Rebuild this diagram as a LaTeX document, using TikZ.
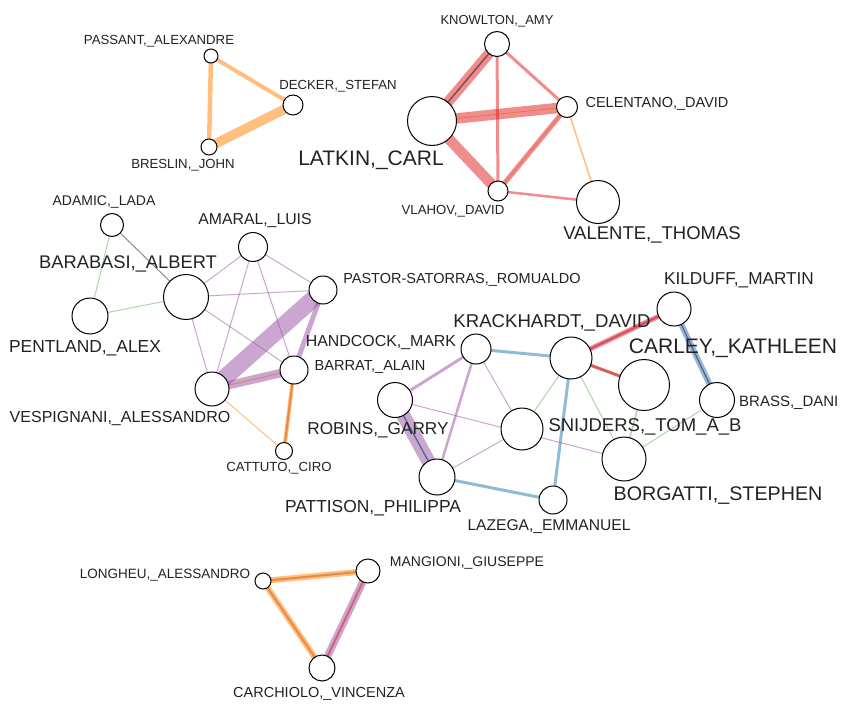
\documentclass[tikz,border=0pt]{standalone}
\usepackage{fontspec}
\setmainfont{Liberation Sans}
\pgfdeclarelayer{bg}
\pgfsetlayers{bg,main}
\definecolor{labelgray}{HTML}{222222}
\definecolor{redE}{HTML}{E31A1C}
\definecolor{purE}{HTML}{984EA3}
\definecolor{bluE}{HTML}{1F78B4}
\definecolor{greE}{HTML}{33A02C}
\definecolor{oraE}{HTML}{FF7F00}
\definecolor{darkora}{HTML}{D9661F}
\tikzset{
  nd/.style={circle, draw=black, fill=white, line width=1pt, inner sep=0pt, minimum size=#1},
  lb/.style={text=labelgray, inner sep=0pt, font=\fontsize{#1}{#1}\selectfont},
  ered/.style={draw=redE, draw opacity=0.5, line width=#1},
  epur/.style={draw=purE, draw opacity=0.5, line width=#1},
  eblu/.style={draw=bluE, draw opacity=0.5, line width=#1},
  egre/.style={draw=greE, draw opacity=0.42, line width=#1},
  eora/.style={draw=oraE, draw opacity=0.5, line width=#1},
  eorad/.style={draw=darkora, draw opacity=0.6, line width=#1},
  egry/.style={draw=black, draw opacity=0.45, line width=#1},
}
\begin{document}
\begin{tikzpicture}[x=1pt,y=-1pt]
\useasboundingbox (0,0) rectangle (846,707);
% nodes
\node[nd=14pt] (passant) at (211,56) {};
\node[nd=20pt] (decker) at (293,105) {};
\node[nd=16pt] (breslin) at (209,147) {};
\node[nd=25pt] (knowlton) at (497,44) {};
\node[nd=49pt] (latkin) at (432,121) {};
\node[nd=21pt] (celentano) at (567,107) {};
\node[nd=20pt] (vlahov) at (498,191) {};
\node[nd=43pt] (valente) at (598,202) {};
\node[nd=23pt] (adamic) at (112,225) {};
\node[nd=29pt] (amaral) at (253,247) {};
\node[nd=45pt] (barabasi) at (186,297) {};
\node[nd=28pt] (pastor) at (323,290) {};
\node[nd=36pt] (pentland) at (90,316) {};
\node[nd=28pt] (barrat) at (294,370) {};
\node[nd=34pt] (vespignani) at (212,389) {};
\node[nd=17pt] (cattuto) at (284,451) {};
\node[nd=30pt] (handcock) at (476,349) {};
\node[nd=35pt] (robins) at (395,400) {};
\node[nd=42pt] (krackhardt) at (571,358) {};
\node[nd=34pt] (kilduff) at (674,309) {};
\node[nd=51pt] (carley) at (644,385) {};
\node[nd=35pt] (brass) at (717,400) {};
\node[nd=42pt] (snijders) at (522,429) {};
\node[nd=44pt] (borgatti) at (624,459) {};
\node[nd=36pt] (pattison) at (437,477) {};
\node[nd=28pt] (lazega) at (553,500) {};
\node[nd=16pt] (longheu) at (263,581) {};
\node[nd=24pt] (mangioni) at (368,571) {};
\node[nd=26pt] (carchiolo) at (322,668) {};
% labels
\node[lb=13.2] (lpassant) at (159,41) {PASSANT,\_ALEXANDRE};
\node[lb=13.2] (ldecker) at (338,86) {DECKER,\_STEFAN};
\node[lb=13.2] (lbreslin) at (183,165) {BRESLIN,\_JOHN};
\node[lb=13] (lknowlton) at (497,21) {KNOWLTON,\_AMY};
\node[lb=21] (llatkin) at (371,160) {LATKIN,\_CARL};
\node[lb=14.5] (lcelentano) at (657,104) {CELENTANO,\_DAVID};
\node[lb=13.2] (lvlahov) at (453,211) {VLAHOV,\_DAVID};
\node[lb=18.5] (lvalente) at (652,235) {VALENTE,\_THOMAS};
\node[lb=14] (ladamic) at (104,202) {ADAMIC,\_LADA};
\node[lb=15.8] (lamaral) at (255,221) {AMARAL,\_LUIS};
\node[lb=18.3] (lbarabasi) at (128,264) {BARABASI,\_ALBERT};
\node[lb=14.5] (lpastor) at (462,280) {PASTOR-SATORRAS,\_ROMUALDO};
\node[lb=17.4] (lpentland) at (85,348) {PENTLAND,\_ALEX};
\node[lb=15.9] (lhandcock) at (381,343) {HANDCOCK,\_MARK};
\node[lb=14.6] (lbarrat) at (370,367) {BARRAT,\_ALAIN};
\node[lb=16] (lvespignani) at (120,418) {VESPIGNANI,\_ALESSANDRO};
\node[lb=13.2] (lcattuto) at (279,468) {CATTUTO,\_CIRO};
\node[lb=17.2] (lrobins) at (378,430) {ROBINS,\_GARRY};
\node[lb=17.2] (lkilduff) at (739,280) {KILDUFF,\_MARTIN};
\node[lb=18.6] (lkrackhardt) at (552,323) {KRACKHARDT,\_DAVID};
\node[lb=21] (lcarley) at (733,348) {CARLEY,\_KATHLEEN};
\node[lb=15, anchor=west] (lbrass) at (739,403) {BRASS,\_DANI};
\node[lb=18.5] (lsnijders) at (645,427) {SNIJDERS,\_TOM\_A\_B};
\node[lb=19.7] (lborgatti) at (718,496) {BORGATTI,\_STEPHEN};
\node[lb=17.4] (lpattison) at (373,508) {PATTISON,\_PHILIPPA};
\node[lb=15.6] (llazega) at (549,527) {LAZEGA,\_EMMANUEL};
\node[lb=13.5] (llongheu) at (165,575) {LONGHEU,\_ALESSANDRO};
\node[lb=14] (lmangioni) at (467,563) {MANGIONI,\_GIUSEPPE};
\node[lb=14.5] (lcarchiolo) at (319,694) {CARCHIOLO,\_VINCENZA};
% edges
\begin{pgfonlayer}{bg}
% top-left triangle
\draw[eora=4] (passant.center) -- (decker.center);
\draw[eora=4.5] (passant.center) -- (breslin.center);
\draw[eora=9.5] (breslin.center) -- (decker.center);
% latkin cluster
\draw[ered=10.5] (latkin.center) -- (knowlton.center);
\draw[egry=1.5] (latkin.center) -- (knowlton.center);
\draw[ered=10.5] (latkin.center) -- (celentano.center);
\draw[eorad=0.8] (latkin.center) -- (celentano.center);
\draw[ered=10.5] (latkin.center) -- (vlahov.center);
\draw[ered=3] (knowlton.center) -- (vlahov.center);
\draw[ered=3] (knowlton.center) -- (celentano.center);
\draw[ered=5] (celentano.center) -- (vlahov.center);
\draw[eorad=0.8] (celentano.center) -- (vlahov.center);
\draw[ered=2.5] (vlahov.center) -- (valente.center);
\draw[eora=1.5] (celentano.center) -- (valente.center);
% left cluster
\draw[egry=1] (adamic.center) -- (barabasi.center);
\draw[egre=1] (adamic.center) -- (pentland.center);
\draw[egre=1] (pentland.center) -- (barabasi.center);
\draw[epur=1] (barabasi.center) -- (amaral.center);
\draw[epur=1] (barabasi.center) -- (pastor.center);
\draw[epur=1] (barabasi.center) -- (barrat.center);
\draw[epur=1] (barabasi.center) -- (vespignani.center);
\draw[epur=1] (amaral.center) -- (pastor.center);
\draw[epur=1] (amaral.center) -- (vespignani.center);
\draw[epur=1] (amaral.center) -- (barrat.center);
\draw[epur=17] (pastor.center) -- (vespignani.center);
\draw[epur=5] (pastor.center) -- (barrat.center);
\draw[epur=8.5] (vespignani.center) -- (barrat.center);
\draw[eorad=0.8] (vespignani.center) -- (barrat.center);
\draw[eora=1] (vespignani.center) -- (cattuto.center);
\draw[eora=4] (barrat.center) -- (cattuto.center);
\draw[eorad=2] (barrat.center) -- (cattuto.center);
% right cluster
\draw[ered=5] (krackhardt.center) -- (kilduff.center);
\draw[ered=2] (krackhardt.center) -- (kilduff.center);
\draw[epur=1.2] (krackhardt.center) -- (kilduff.center);
\draw[draw={rgb,255:red,214;green,96;blue,77}, line width=3] (krackhardt.center) -- (carley.center);
\draw[eblu=6] (kilduff.center) -- (brass.center);
\draw[epur=1.5] (kilduff.center) -- (brass.center);
\draw[egry=0.6] (kilduff.center) -- (brass.center);
\draw[eblu=3] (handcock.center) -- (krackhardt.center);
\draw[eblu=3] (krackhardt.center) -- (lazega.center);
\draw[eblu=3] (pattison.center) -- (lazega.center);
\draw[egre=1] (krackhardt.center) -- (snijders.center);
\draw[egre=1] (krackhardt.center) -- (borgatti.center);
\draw[egre=1.5] (carley.center) -- (borgatti.center);
\draw[egre=1] (brass.center) -- (borgatti.center);
\draw[epur=3] (handcock.center) -- (robins.center);
\draw[epur=2.5] (handcock.center) -- (pattison.center);
\draw[epur=1] (handcock.center) -- (snijders.center);
\draw[epur=14] (robins.center) -- (pattison.center);
\draw[eblu=1.5] (robins.center) -- (pattison.center);
\draw[egry=0.6] (robins.center) -- (pattison.center);
\draw[epur=1] (robins.center) -- (borgatti.center);
\draw[epur=1] (pattison.center) -- (snijders.center);
% bottom triangle
\draw[eora=6] (longheu.center) -- (mangioni.center);
\draw[eorad=2] (longheu.center) -- (mangioni.center);
\draw[eora=6] (longheu.center) -- (carchiolo.center);
\draw[eorad=2] (longheu.center) -- (carchiolo.center);
\draw[epur=7.5] (mangioni.center) -- (carchiolo.center);
\draw[ered=2] (mangioni.center) -- (carchiolo.center);
\end{pgfonlayer}
\end{tikzpicture}
\end{document}
